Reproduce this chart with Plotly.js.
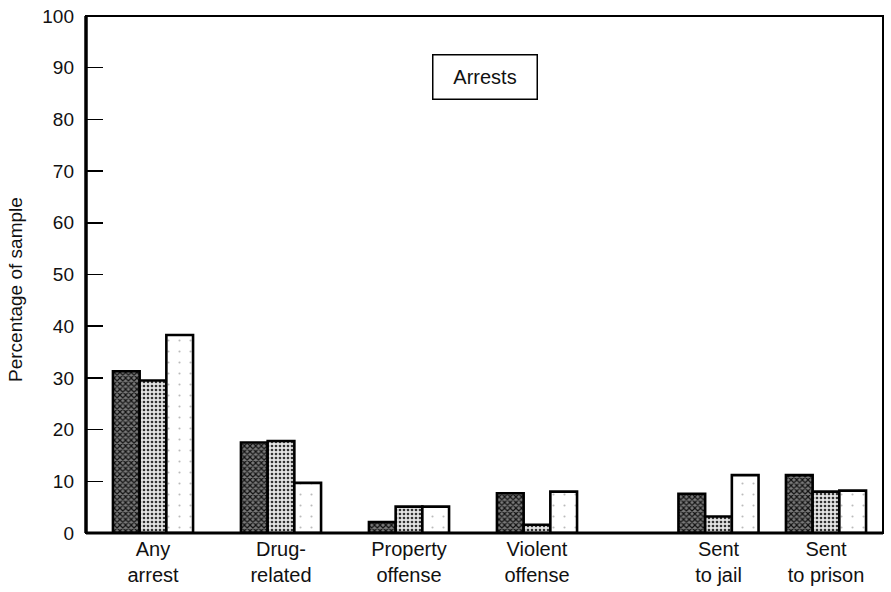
<!DOCTYPE html>
<html>
<head>
<meta charset="utf-8">
<script src="https://cdn.plot.ly/plotly-3.0.1.min.js"></script>
<style>html,body{margin:0;padding:0;background:#fff;}#chart{width:891px;height:592px;}</style>
</head>
<body>
<div id="chart"></div>
<script>
// ---- data ----
const categories = ["Any<br>arrest", "Drug-<br>related", "Property<br>offense", "Violent<br>offense", "Sent<br>to jail", "Sent<br>to prison"];
const seriesDark  = [31.3, 17.5, 2.1, 7.7, 7.6, 11.2];
const seriesDots  = [29.5, 17.8, 5.1, 1.6, 3.2, 8.0];
const seriesWhite = [38.3, 9.7, 5.1, 8.0, 11.2, 8.2];
const yTickVals = [0, 10, 20, 30, 40, 50, 60, 70, 80, 90, 100];
const boxLabel = "Arrests";
const yTitle = "Percentage of sample";

// ---- layout geometry (pixels) ----
const W = 891, H = 592;
const L = 86, R = 883, T = 16, B = 533;
const plotW = R - L, plotH = B - T;
const split = 627;                 // pixel where the second x-axis starts
const unit1 = 128, c1 = 153;       // px per category, first centre (group 1)
const unit2 = 107.5, c2 = 718.5;   // px per category, first centre (group 2)
const barPx = 26.7;

const styles = [
  {vals: seriesDark,  pattern: {shape: "x", size: 4, solidity: 0.5, fgcolor: "#111", bgcolor: "#7a7a7a"}, color: "#7a7a7a"},
  {vals: seriesDots,  pattern: {shape: ".", size: 4, solidity: 0.35, fgcolor: "#333", bgcolor: "#e4e4e4"}, color: "#e4e4e4"},
  {vals: seriesWhite, pattern: {shape: ".", size: 11, solidity: 0.03, fgcolor: "#bbb", bgcolor: "#ffffff"}, color: "#ffffff"}
];

const traces = [];
styles.forEach((s, i) => {
  const offPx = -1.5 * barPx + i * barPx;
  traces.push({
    type: "bar", x: categories.slice(0, 4), y: s.vals.slice(0, 4),
    xaxis: "x", yaxis: "y",
    width: barPx / unit1, offset: offPx / unit1,
    marker: {color: s.color, pattern: s.pattern, line: {color: "#000", width: 2.6}},
    showlegend: false, hoverinfo: "skip"
  });
  traces.push({
    type: "bar", x: categories.slice(4), y: s.vals.slice(4),
    xaxis: "x2", yaxis: "y",
    width: barPx / unit2, offset: offPx / unit2,
    marker: {color: s.color, pattern: s.pattern, line: {color: "#000", width: 2.6}},
    showlegend: false, hoverinfo: "skip"
  });
});

const d = (split - L) / plotW;
const font = {family: "Liberation Sans, Arial, sans-serif", color: "#111"};

const layout = {
  width: W, height: H,
  margin: {l: L, r: W - R, t: T, b: H - B, pad: 0},
  paper_bgcolor: "#fff", plot_bgcolor: "#fff",
  barmode: "overlay",
  font: font,
  xaxis: {
    domain: [0, d], type: "category",
    range: [(L - c1) / unit1, (split - c1) / unit1],
    showline: false, showgrid: false, zeroline: false, ticks: "",
    tickfont: Object.assign({}, font, {size: 20}), ticklabelstandoff: 2, fixedrange: true
  },
  xaxis2: {
    domain: [d, 1], type: "category", anchor: "y",
    range: [(split - c2) / unit2, (R - c2) / unit2],
    showline: false, showgrid: false, zeroline: false, ticks: "",
    tickfont: Object.assign({}, font, {size: 20}), ticklabelstandoff: 2, fixedrange: true
  },
  yaxis: {
    range: [0, 100], tickvals: yTickVals,
    ticks: "inside", ticklen: 17, tickwidth: 1.5, tickcolor: "#000",
    showline: false, showgrid: false, zeroline: false,
    tickfont: Object.assign({}, font, {size: 19}),
    ticklabelstandoff: 11, fixedrange: true
  },
  shapes: [
    {type: "rect", xref: "paper", yref: "paper", x0: 0, x1: 1, y0: 0, y1: 1, line: {color: "#000", width: 2}, layer: "above"},
    {type: "line", xref: "paper", yref: "paper", x0: 0, x1: 0, y0: 0, y1: 1, line: {color: "#000", width: 3.5}, layer: "above"},
    {type: "line", xref: "paper", yref: "paper", x0: 0, x1: 1, y0: 0, y1: 0, line: {color: "#000", width: 3}, layer: "above"}
  ],
  annotations: [
    {text: boxLabel, xref: "paper", yref: "paper", x: (484.5 - L) / plotW, y: (B - 76.5) / plotH,
     xanchor: "center", yanchor: "middle", showarrow: false,
     font: Object.assign({}, font, {size: 20}),
     width: 101, height: 41, borderpad: 1, bordercolor: "#000", borderwidth: 1.5, bgcolor: "#fff"},
    {text: yTitle, xref: "paper", yref: "paper", x: (15 - L) / plotW, y: (B - 290) / plotH,
     xanchor: "center", yanchor: "middle", textangle: -90, showarrow: false,
     font: Object.assign({}, font, {size: 19})}
  ]
};

Plotly.newPlot("chart", traces, layout, {displayModeBar: false, staticPlot: true});
</script>
</body>
</html>
